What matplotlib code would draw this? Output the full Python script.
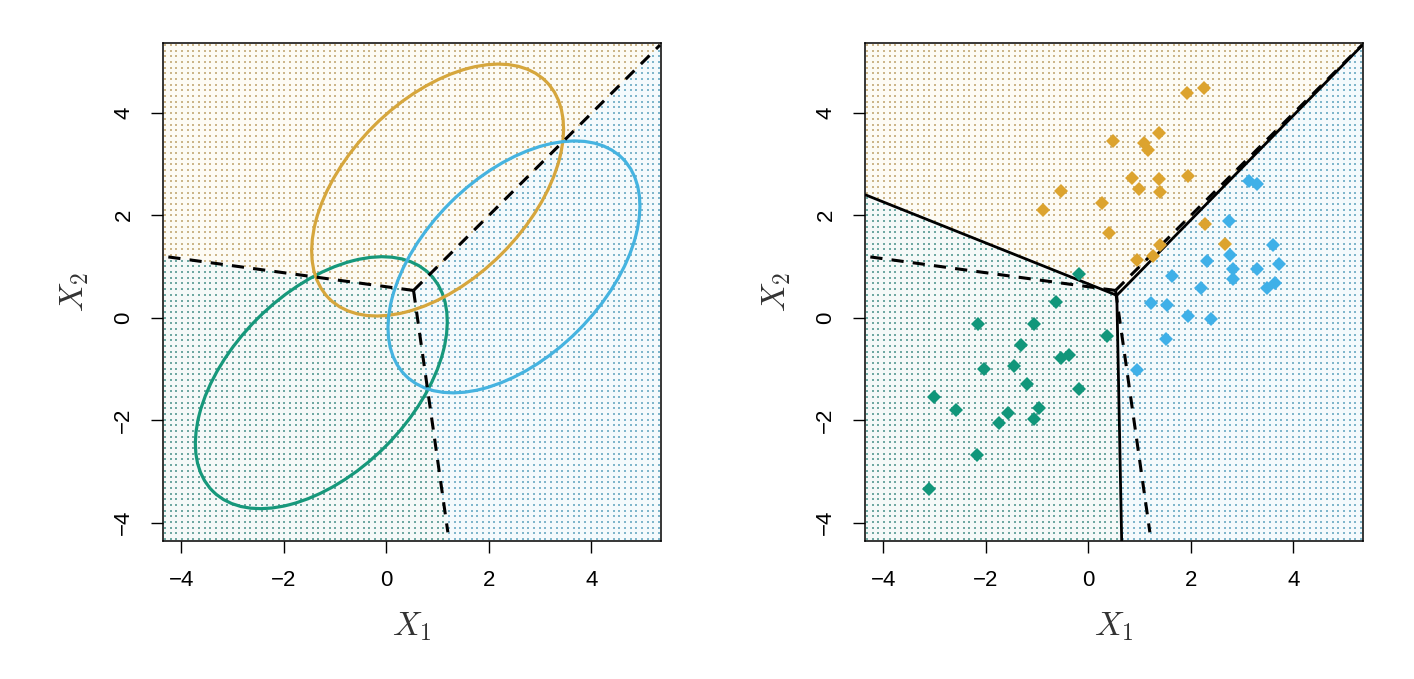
import numpy as np
import matplotlib
matplotlib.use("Agg")
import matplotlib.pyplot as plt
from matplotlib.patches import Ellipse
from matplotlib.colors import ListedColormap

plt.rcParams['font.family'] = ['Liberation Sans', 'DejaVu Sans']
plt.rcParams['mathtext.fontset'] = 'cm'

# ---------------- data ----------------
XLIM = (-4.36, 5.36)
YLIM = (-4.36, 5.36)
TICKS = [-4, -2, 0, 2, 4]

# class order: green, orange, blue
CLASS_COLORS = ['#11967a', '#dca32e', '#3fb0e8']
ELLIPSE_COLORS = ['#16987b', '#d6a63c', '#45b3e0']
DOT_COLORS = ['#6fa8a2', '#ccb68a', '#7fb6cb']
TINT_COLORS = ['#f5f9f8', '#fdfbf4', '#f4fafc']

ell_cx = [-1.27, 1.00, 2.49]
ell_cy = [-1.27, 2.49, 0.99]
ell_w = 5.99
ell_h = 3.53
ell_angle = 45

# Bayes boundaries (dashed): junction and ends (left, upper-right, bottom)
bayes_jx, bayes_jy = 0.53, 0.53
bayes_ex = [-4.37, 5.34, 1.20]
bayes_ey = [1.20, 5.32, -4.19]

# LDA boundaries (solid)
lda_jx, lda_jy = 0.555, 0.435
lda_ex = [-4.36, 5.36, 0.65]
lda_ey = [2.40, 5.33, -4.36]

green_x = [-0.19, -0.63, -2.15, -1.06, 0.36, -1.31, -0.54, -0.37, -2.04, -1.46,
           -1.20, -0.18, -3.02, -2.58, -0.97, -1.56, -1.74, -1.07, -2.17, -3.12]
green_y = [0.85, 0.30, -0.12, -0.12, -0.35, -0.53, -0.78, -0.73, -1.00, -0.94,
           -1.30, -1.40, -1.55, -1.81, -1.76, -1.86, -2.06, -1.98, -2.69, -3.34]

orange_x = [1.92, 2.26, 1.38, 0.49, 1.09, 1.17, 0.85, 1.38, 1.95, 0.99,
            1.39, -0.53, 0.26, -0.89, 0.41, 2.28, 2.66, 1.39, 0.95, 1.26]
orange_y = [4.375, 4.48, 3.61, 3.45, 3.40, 3.27, 2.73, 2.71, 2.77, 2.51,
            2.45, 2.47, 2.24, 2.11, 1.65, 1.83, 1.44, 1.41, 1.13, 1.20]

blue_x = [3.14, 3.30, 2.75, 3.61, 2.77, 2.32, 3.73, 2.83, 3.29, 2.82,
          1.64, 3.65, 3.48, 2.20, 1.22, 1.53, 1.94, 2.39, 1.51, 0.95]
blue_y = [2.66, 2.60, 1.88, 1.41, 1.23, 1.11, 1.04, 0.94, 0.94, 0.75,
          0.81, 0.68, 0.57, 0.58, 0.29, 0.24, 0.025, -0.02, -0.42, -1.03]


def classify(gx, gy, jx, jy, ex, ey):
    """Region index from three boundary rays: 0 green, 1 orange, 2 blue."""
    a = np.degrees(np.arctan2(np.asarray(ey) - jy, np.asarray(ex) - jx)) % 360
    aL, aU, aB = a
    th = np.degrees(np.arctan2(gy - jy, gx - jx)) % 360
    cls = np.full(th.shape, 2)
    cls[(th >= aU) & (th < aL)] = 1
    cls[(th >= aL) & (th < aB)] = 0
    return cls


def draw_background(ax, jx, jy, ex, ey):
    fx = np.linspace(XLIM[0], XLIM[1], 500)
    fy = np.linspace(YLIM[0], YLIM[1], 500)
    FX, FY = np.meshgrid(fx, fy)
    C = classify(FX, FY, jx, jy, ex, ey)
    ax.imshow(C, extent=(XLIM[0], XLIM[1], YLIM[0], YLIM[1]), origin='lower',
              cmap=ListedColormap(TINT_COLORS), vmin=-0.5, vmax=2.5,
              interpolation='nearest', aspect='auto', zorder=0)
    gx = np.linspace(XLIM[0] + 0.04, XLIM[1] - 0.04, 88)
    gy = np.linspace(YLIM[0] + 0.04, YLIM[1] - 0.04, 88)
    GX, GY = np.meshgrid(gx, gy)
    G = classify(GX, GY, jx, jy, ex, ey)
    for k in range(3):
        m = G == k
        ax.scatter(GX[m], GY[m], s=1.2, c=DOT_COLORS[k], marker='s',
                   linewidths=0, zorder=1)


def draw_rays(ax, jx, jy, ex, ey, ls, lw):
    for x2, y2 in zip(ex, ey):
        ax.plot([jx, x2], [jy, y2], color='black', linestyle=ls, lw=lw,
                zorder=4, solid_capstyle='butt', dash_capstyle='butt')


def style_axes(ax):
    ax.set_xlim(*XLIM)
    ax.set_ylim(*YLIM)
    ax.set_xticks(TICKS)
    ax.set_yticks(TICKS)
    ax.tick_params(direction='out', length=8.6, width=1.0, labelsize=16,
                   pad=12, colors='black')
    for lab in ax.get_yticklabels():
        lab.set_rotation(90)
        lab.set_verticalalignment('center')
    for sp in ax.spines.values():
        sp.set_linewidth(1.1)
        sp.set_color('black')
        sp.set_zorder(6)
    ax.set_xlabel(r'$X_1$', fontsize=24, labelpad=14, color='#333333')
    ax.set_ylabel(r'$X_2$', fontsize=24, labelpad=16, color='#333333')


fig = plt.figure(figsize=(14.14, 6.79), dpi=100)
ax1 = fig.add_axes([163 / 1414, 138 / 679, 498 / 1414, 498 / 679])
ax2 = fig.add_axes([865 / 1414, 138 / 679, 498 / 1414, 498 / 679])

# ---- left panel: Bayes ----
draw_background(ax1, bayes_jx, bayes_jy, bayes_ex, bayes_ey)
for cx, cy, col in zip(ell_cx, ell_cy, ELLIPSE_COLORS):
    ax1.add_patch(Ellipse((cx, cy), ell_w, ell_h, angle=ell_angle, fill=False,
                          edgecolor=col, lw=2.3, zorder=3))
draw_rays(ax1, bayes_jx, bayes_jy, bayes_ex, bayes_ey, (0, (4, 3)), 2.2)
style_axes(ax1)

# ---- right panel: LDA ----
draw_background(ax2, lda_jx, lda_jy, lda_ex, lda_ey)
draw_rays(ax2, bayes_jx, bayes_jy, bayes_ex, bayes_ey, (0, (4, 3)), 2.2)
draw_rays(ax2, lda_jx, lda_jy, lda_ex, lda_ey, '-', 2.0)
for xs, ys, col in zip([green_x, orange_x, blue_x], [green_y, orange_y, blue_y],
                       CLASS_COLORS):
    ax2.plot(xs, ys, linestyle='none', marker='D', markersize=7.5,
             color=col, markeredgewidth=0, zorder=5)
style_axes(ax2)

fig.savefig('out.png', dpi=100)
